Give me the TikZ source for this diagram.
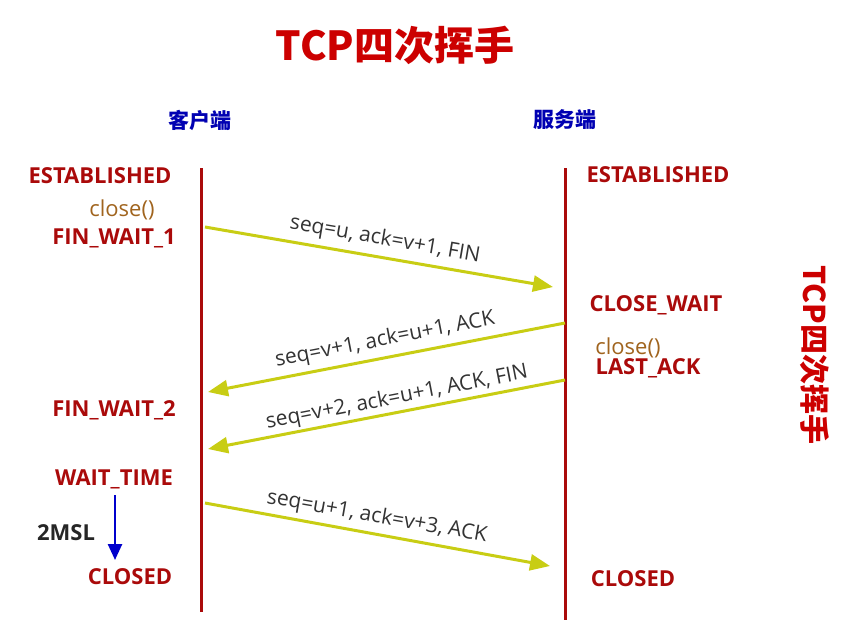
\documentclass[tikz,border=0pt]{standalone}
\usepackage{fontspec}
\setmainfont{Open Sans}
\newfontfamily\cjk{Noto Sans CJK SC}
\usetikzlibrary{arrows.meta}
\definecolor{darkred}{RGB}{170,10,10}
\definecolor{msgcol}{RGB}{200,205,20}
\definecolor{brownish}{RGB}{160,100,30}
\begin{document}
\begin{tikzpicture}[
		x=1pt, y=-1pt,
		state/.style = {text=darkred, font=\bfseries\fontsize{22}{26}\selectfont},
		msg/.style = {draw=msgcol, line width=3pt, -{Triangle[length=20pt,width=16pt]}},
		msglabel/.style = {font=\fontsize{21}{25}\selectfont, text=black!80},
		life/.style = {draw=darkred, line width=3pt}
	]
	\useasboundingbox (0,0) rectangle (850,635);
	\node[text=red!80!black, font=\cjk\bfseries\fontsize{40}{46}\selectfont] (title) at (395,45) {TCP四次挥手};
	\node[text=blue!70!black, font=\cjk\bfseries\fontsize{21}{25}\selectfont] (client) at (200,120) {客户端};
	\node[text=blue!70!black, font=\cjk\bfseries\fontsize{21}{25}\selectfont] (server) at (565,120) {服务端};
	\node[rotate=-90, text=red!80!black, font=\cjk\bfseries\fontsize{30}{34}\selectfont] (side) at (815,355) {TCP四次挥手};
	% Lifelines.
	\coordinate (ctop) at (201,168); \coordinate (cbot) at (201,612);
	\coordinate (stop) at (565,168); \coordinate (sbot) at (565,620);
	\draw[life] (ctop) -- (cbot);
	\draw[life] (stop) -- (sbot);
	% Client states.
	\node[state] (cest) at (100,176) {ESTABLISHED};
	\node[text=brownish, font=\fontsize{22}{26}\selectfont] (cclose) at (122,210) {close()};
	\node[state] (fw1) at (114,238) {FIN\_WAIT\_1};
	\node[state] (fw2) at (114,410) {FIN\_WAIT\_2};
	\node[state] (wt) at (114,479) {WAIT\_TIME};
	\node[font=\bfseries\fontsize{22}{26}\selectfont, text=black!85] (msl) at (66,533) {2MSL};
	\node[state] (cclosed) at (130,577) {CLOSED};
	\coordinate (mtop) at (115,495); \coordinate (mbot) at (115,560);
	\draw[blue!80!black, line width=2.5pt, -{Triangle[length=16pt,width=14pt]}] (mtop) -- (mbot);
	% Server states.
	\node[state] (sest) at (658,175) {ESTABLISHED};
	\node[state] (cw) at (656,305) {CLOSE\_WAIT};
	\node[text=brownish, font=\fontsize{22}{26}\selectfont] (sclose) at (628,348) {close()};
	\node[state] (la) at (648,368) {LAST\_ACK};
	\node[state] (sclosed) at (633,579) {CLOSED};
	% Messages.
	\coordinate (m1a) at (205,227); \coordinate (m1b) at (553,287);
	\coordinate (m2a) at (565,323); \coordinate (m2b) at (208,392);
	\coordinate (m3a) at (565,380); \coordinate (m3b) at (208,449);
	\coordinate (m4a) at (205,503); \coordinate (m4b) at (550,566);
	\draw[msg] (m1a) -- (m1b);
	\draw[msg] (m2a) -- (m2b);
	\draw[msg] (m3a) -- (m3b);
	\draw[msg] (m4a) -- (m4b);
	\node[msglabel, rotate=-9.8] (l1) at (385,240) {seq=u, ack=v+1, FIN};
	\node[msglabel, rotate=11] (l2) at (385,340) {seq=v+1, ack=u+1, ACK};
	\node[msglabel, rotate=11] (l3) at (397,398) {seq=v+2, ack=u+1, ACK, FIN};
	\node[msglabel, rotate=-10] (l4) at (377,517) {seq=u+1, ack=v+3, ACK};
\end{tikzpicture}
\end{document}
